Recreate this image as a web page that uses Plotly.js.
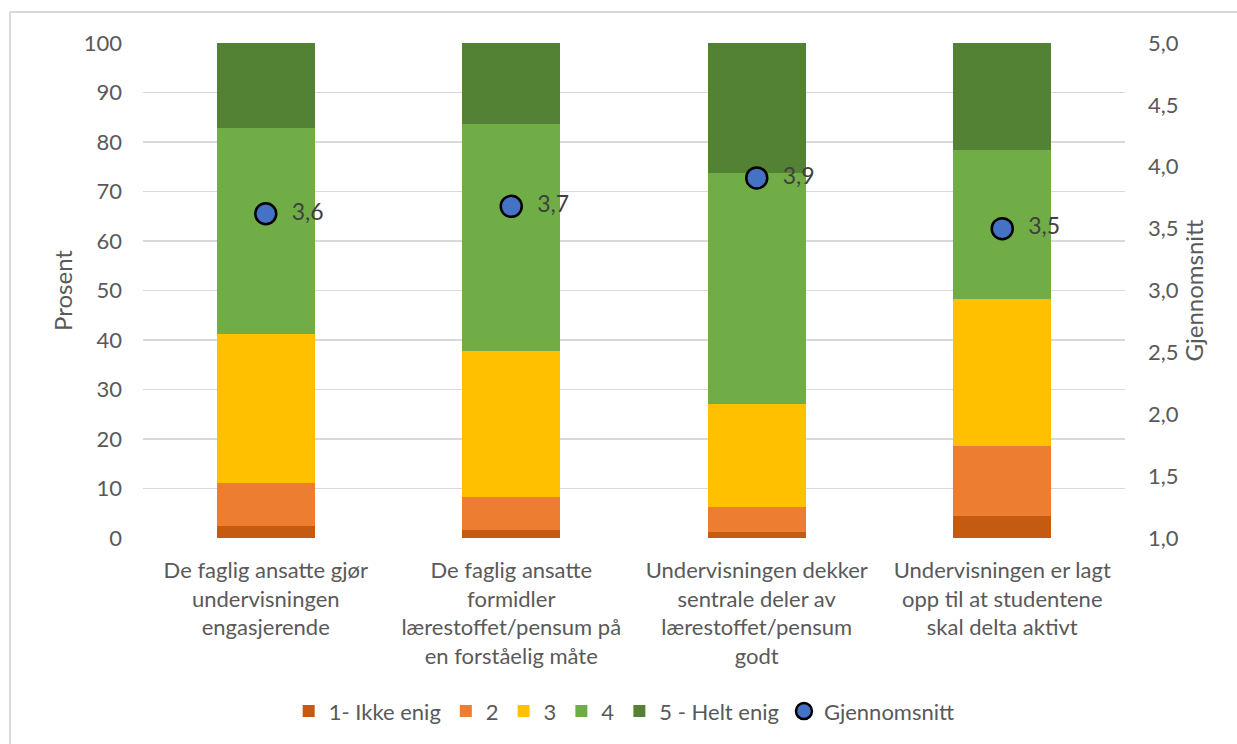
<!DOCTYPE html>
<html>
<head>
<meta charset="utf-8">
<script src="https://cdn.plot.ly/plotly-3.0.1.min.js"></script>
<style>html,body{margin:0;padding:0;background:#fff;}#chart{width:1237px;height:744px;}</style>
</head>
<body>
<div id="chart"></div>
<script>
const categories = [
  "De faglig ansatte gjør<br>undervisningen<br>engasjerende",
  "De faglig ansatte<br>formidler<br>lærestoffet/pensum på<br>en forståelig måte",
  "Undervisningen dekker<br>sentrale deler av<br>lærestoffet/pensum<br>godt",
  "Undervisningen er lagt<br>opp til at studentene<br>skal delta aktivt"
];
const seriesNames = ["1- Ikke enig", "2", "3", "4", "5 - Helt enig"];
const s1 = [2.4, 1.6, 1.3, 4.4];
const s2 = [8.7, 6.6, 4.9, 14.2];
const s3 = [30.1, 29.6, 20.8, 29.6];
const s4 = [41.6, 45.9, 46.8, 30.2];
const s5 = [17.2, 16.3, 26.2, 21.6];
const meanName = "Gjennomsnitt";
const means = [3.62, 3.68, 3.91, 3.50];
const meanLabels = ["3,6", "3,7", "3,9", "3,5"];
const leftTicks = [0,10,20,30,40,50,60,70,80,90,100];
const rightTicks = [1.0,1.5,2.0,2.5,3.0,3.5,4.0,4.5,5.0];

const colors = ["#C55A11", "#ED7D31", "#FFC000", "#70AD47", "#548235"];
const seriesVals = [s1, s2, s3, s4, s5];

const font = "Lato, 'Open Sans', sans-serif";
const grey = "#595959";
const fs = 22;

const traces = seriesVals.map((v, i) => ({
  type: "bar",
  name: seriesNames[i],
  x: categories,
  y: v,
  marker: {color: colors[i], line: {width: 0}},
  hoverinfo: "skip"
}));
traces.push({
  type: "scatter",
  mode: "markers+text",
  name: meanName,
  x: categories,
  y: means,
  yaxis: "y2",
  text: meanLabels,
  texttemplate: "\u00a0\u00a0%{text}",
  textposition: "middle right",
  textfont: {family: font, size: 23, color: "#404040"},
  marker: {size: 21, color: "#4472C4", line: {color: "#000000", width: 2.5}},
  cliponaxis: false
});

// plot area in pixels: left 143, right 1125, top 43, bottom 540
const L = 143, R = 1125, T = 43, B = 540;
const px = x => (x - L) / (R - L);
const py = y => (B - y) / (B - T);

const layout = {
  width: 1237, height: 744,
  margin: {l: L, r: 1237 - R, t: T, b: 744 - B},
  paper_bgcolor: "#ffffff",
  plot_bgcolor: "#ffffff",
  barmode: "stack",
  bargap: 0.6,
  separators: ", ",
  font: {family: font, size: fs, color: grey},
  showlegend: true,
  legend: {
    orientation: "h", x: 0.49, xanchor: "center", y: py(714), yanchor: "middle",
    traceorder: "normal",
    font: {family: font, size: fs, color: grey},
    itemwidth: 30, tracegroupgap: 0
  },
  xaxis: {
    type: "category",
    showgrid: false, zeroline: false, showline: false,
    ticks: "", ticklabelstandoff: 17,
    tickfont: {family: font, size: fs, color: grey},
    fixedrange: true
  },
  yaxis: {
    range: [0, 100], tickvals: leftTicks, ticktext: leftTicks.map(String),
    showgrid: true, gridcolor: "#D9D9D9", gridwidth: 1.3,
    zeroline: false, showline: false, ticks: "",
    ticklabelstandoff: 20,
    tickfont: {family: font, size: fs, color: grey},
    title: {text: "Prosent", font: {family: font, size: 24, color: grey}, standoff: 4},
    fixedrange: true
  },
  yaxis2: {
    overlaying: "y", side: "right", range: [1, 5],
    tickvals: rightTicks, tickformat: ".1f",
    showgrid: false, zeroline: false, showline: false, ticks: "",
    ticklabelstandoff: 22,
    tickfont: {family: font, size: fs, color: grey},
    title: {text: "Gjennomsnitt", font: {family: font, size: 24, color: grey}, standoff: 4},
    fixedrange: true
  },
  shapes: [
    {type: "line", xref: "paper", yref: "paper", x0: px(10), x1: px(10), y0: py(12), y1: py(760), line: {color: "#D9D9D9", width: 2}, layer: "below"},
    {type: "line", xref: "paper", yref: "paper", x0: px(10), x1: px(1250), y0: py(12), y1: py(12), line: {color: "#D9D9D9", width: 2}, layer: "below"}
  ]
};

Plotly.newPlot("chart", traces, layout, {displayModeBar: false, staticPlot: true});
</script>
</body>
</html>
